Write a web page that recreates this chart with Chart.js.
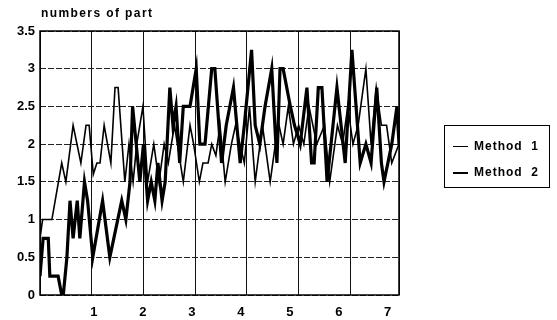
<!DOCTYPE html>
<html>
<head>
<meta charset="utf-8">
<script src="https://cdn.jsdelivr.net/npm/chart.js@4.4.0/dist/chart.umd.min.js"></script>
<style>
  html, body { margin: 0; padding: 0; background: #fff; }
  #wrap { position: relative; width: 557px; height: 320px; }
  #ytitle {
    position: absolute; left: 41px; top: 6px;
    font: bold 12px "Liberation Sans", Arial, sans-serif; letter-spacing: 1.4px; color: #000;
  }
  #legend {
    position: absolute; left: 444px; top: 125px; width: 106px; height: 63px;
    border: 1px solid #000; box-sizing: border-box;
    font: bold 12px "Liberation Sans", Arial, sans-serif; letter-spacing: 1px; color: #000;
  }
  #legend .row { position: absolute; left: 8px; height: 14px; line-height: 14px; white-space: pre; }
  #legend .swatch { display: inline-block; width: 15px; vertical-align: middle; margin-right: 6px; background: #000; }
</style>
</head>
<body>
<div id="wrap">
  <canvas id="chart" width="557" height="320"></canvas>
  <div id="ytitle">numbers of part</div>
  <div id="legend">
    <div class="row" style="top:13px"><span class="swatch" style="height:1px"></span>Method  1</div>
    <div class="row" style="top:39px"><span class="swatch" style="height:2px"></span>Method  2</div>
  </div>
</div>
<script>
// values
const method1X = [0, 0.05, 0.23, 0.42, 0.5, 0.64, 0.79, 0.89, 0.95, 1.03, 1.1, 1.16, 1.24, 1.37, 1.45, 1.51, 1.64, 1.72, 1.8, 1.87, 1.99, 2.08, 2.2, 2.3, 2.4, 2.48, 2.6, 2.77, 2.9, 2.97, 3.08, 3.15, 3.25, 3.32, 3.4, 3.48, 3.58, 3.7, 3.78, 3.95, 4.05, 4.16, 4.3, 4.45, 4.55, 4.62, 4.7, 4.8, 4.9, 5.0, 5.1, 5.2, 5.35, 5.5, 5.6, 5.75, 5.85, 5.95, 6.05, 6.15, 6.3, 6.4, 6.5, 6.6, 6.7, 6.8, 6.94];
const method1Y = [0.75, 1.0, 1.0, 1.75, 1.5, 2.25, 1.75, 2.25, 2.25, 1.6, 1.75, 1.75, 2.25, 1.75, 2.75, 2.75, 1.5, 2.0, 1.5, 2.0, 2.5, 1.5, 2.0, 1.5, 2.0, 1.75, 2.25, 1.5, 2.25, 2.0, 1.5, 1.75, 1.75, 2.0, 1.85, 2.25, 1.5, 2.0, 2.25, 1.75, 2.5, 1.5, 2.25, 1.5, 2.0, 2.25, 2.0, 2.5, 2.0, 2.25, 2.0, 2.5, 2.0, 2.25, 1.5, 2.25, 2.0, 2.5, 2.0, 2.25, 3.0, 2.0, 2.75, 2.25, 2.25, 1.75, 2.0];

const method2X = [0, 0.06, 0.16, 0.19, 0.35, 0.42, 0.45, 0.52, 0.58, 0.64, 0.72, 0.77, 0.86, 0.92, 1.02, 1.21, 1.35, 1.58, 1.66, 1.74, 1.79, 1.86, 1.93, 2.0, 2.08, 2.15, 2.22, 2.28, 2.36, 2.42, 2.51, 2.57, 2.63, 2.7, 2.77, 2.9, 3.02, 3.09, 3.19, 3.32, 3.38, 3.51, 3.6, 3.74, 3.87, 3.95, 4.09, 4.16, 4.25, 4.35, 4.48, 4.58, 4.64, 4.7, 4.84, 4.92, 5.03, 5.16, 5.25, 5.3, 5.38, 5.45, 5.55, 5.74, 5.9, 6.03, 6.19, 6.3, 6.4, 6.51, 6.6, 6.65, 6.8, 6.9, 6.94];
const method2Y = [0.25, 0.75, 0.75, 0.25, 0.25, 0, 0, 0.5, 1.25, 0.75, 1.25, 0.75, 1.5, 1.25, 0.5, 1.25, 0.5, 1.25, 1.0, 1.5, 2.5, 2.0, 1.5, 2.0, 1.25, 1.5, 1.25, 1.75, 1.25, 1.5, 2.75, 2.25, 2.5, 1.75, 2.5, 2.5, 3.0, 2.0, 2.0, 3.0, 3.0, 1.75, 2.25, 2.75, 1.75, 2.25, 3.25, 2.25, 2.0, 2.5, 3.0, 1.75, 3.0, 3.0, 2.5, 2.25, 2.0, 2.75, 1.75, 1.75, 2.75, 2.75, 1.5, 2.75, 1.75, 3.25, 1.75, 2.0, 1.75, 2.75, 1.75, 1.5, 2.0, 2.5, 2.0];

const xTickLabels = ['1', '2', '3', '4', '5', '6', '7'];
const yTicks = [0, 0.5, 1, 1.5, 2, 2.5, 3, 3.5];

const toPoints = (xs, ys) => xs.map((x, i) => ({ x: x, y: ys[i] }));

Chart.defaults.font.family = '"Liberation Sans", Arial, sans-serif';
Chart.defaults.font.weight = 'bold';
Chart.defaults.font.size = 13;
Chart.defaults.color = '#000';

// full box round the plot
const frame = {
  id: 'frame',
  afterDraw(chart) {
    const { ctx, chartArea: a } = chart;
    ctx.save();
    ctx.strokeStyle = '#000';
    ctx.lineWidth = 1.5;
    ctx.strokeRect(a.left, a.top, a.right - a.left, a.bottom - a.top);
    ctx.restore();
  }
};

new Chart(document.getElementById('chart'), {
  type: 'line',
  data: {
    datasets: [
      {
        label: 'Method 1',
        data: toPoints(method1X, method1Y),
        borderColor: '#000',
        borderWidth: 1.6,
        pointRadius: 0,
        tension: 0
      },
      {
        label: 'Method 2',
        data: toPoints(method2X, method2Y),
        borderColor: '#000',
        borderWidth: 3.2,
        pointRadius: 0,
        tension: 0
      }
    ]
  },
  options: {
    responsive: false,
    animation: false,
    layout: { padding: { top: 31, right: 158, left: 0, bottom: 0 } },
    plugins: { legend: { display: false }, tooltip: { enabled: false } },
    scales: {
      x: {
        type: 'linear',
        min: 0,
        max: 6.94,
        ticks: { display: false, stepSize: 1 },
        grid: { color: '#111', lineWidth: 1, drawTicks: false },
        border: { display: false },
        afterFit: s => { s.height = 0; }
      },
      xLabels: {
        type: 'linear',
        position: 'bottom',
        min: -0.1,
        max: 7.23,
        afterBuildTicks: s => { s.ticks = xTickLabels.map(t => ({ value: Number(t) })); },
        ticks: { padding: 10, callback: v => xTickLabels[v - 1] },
        grid: { display: false, drawTicks: false },
        border: { display: false },
        afterFit: s => { s.height = 25; }
      },
      y: {
        min: 0,
        max: 3.5,
        afterBuildTicks: s => { s.ticks = yTicks.map(v => ({ value: v })); },
        ticks: { padding: 5, callback: v => String(v) },
        grid: { color: '#222', lineWidth: 1, drawTicks: false },
        border: { display: false, dash: [6, 2] },
        afterFit: s => { s.width = 40; }
      }
    }
  },
  plugins: [frame]
});
</script>
</body>
</html>
